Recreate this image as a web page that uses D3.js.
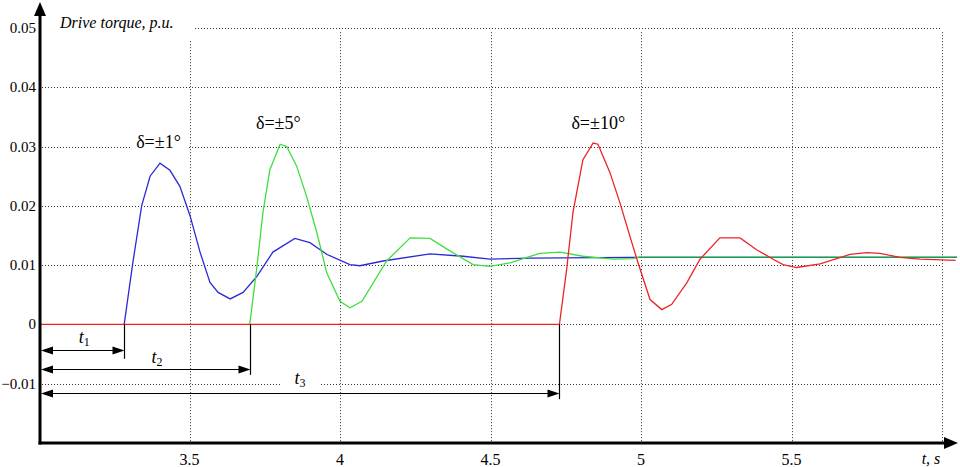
<!DOCTYPE html>
<html><head><meta charset="utf-8"><script src="https://cdn.jsdelivr.net/npm/d3@7"></script></head>
<body style="margin:0">
<svg id="chart" width="960" height="467"></svg>
<script>
// tick values
const xTicks = [3.5, 4, 4.5, 5, 5.5];
const yTicks = [-0.01, 0, 0.01, 0.02, 0.03, 0.04, 0.05];

// delta = +-1 deg (blue)
const blueT = [3.283, 3.312, 3.341, 3.369, 3.402, 3.435, 3.468, 3.502, 3.535, 3.568, 3.595, 3.635, 3.678, 3.724, 3.777, 3.850, 3.900, 3.957, 4.033, 4.066, 4.143, 4.299, 4.409, 4.498, 4.631, 4.963, 6.05];
const blueV = [0, 0.0105, 0.020, 0.025, 0.0272, 0.026, 0.0233, 0.0183, 0.0122, 0.0071, 0.0054, 0.0043, 0.0054, 0.0081, 0.0122, 0.0145, 0.0138, 0.0118, 0.0101, 0.0099, 0.0107, 0.0119, 0.0115, 0.0110, 0.0112, 0.0113, 0.0113];

// delta = +-5 deg (green)
const greenT = [3.700, 3.723, 3.744, 3.767, 3.801, 3.823, 3.856, 3.889, 3.923, 3.956, 4.000, 4.033, 4.073, 4.155, 4.233, 4.299, 4.365, 4.442, 4.498, 4.565, 4.664, 4.731, 4.807, 4.907, 4.973, 4.997, 6.05];
const greenV = [0, 0.0093, 0.0189, 0.0261, 0.0304, 0.0300, 0.0267, 0.0216, 0.0155, 0.0087, 0.0039, 0.0028, 0.0039, 0.0107, 0.0146, 0.0145, 0.0124, 0.0101, 0.0098, 0.0104, 0.0120, 0.0122, 0.0115, 0.0110, 0.0111, 0.0114, 0.0114];

// delta = +-10 deg (red)
const redT = [3.0, 4.729, 4.753, 4.774, 4.807, 4.841, 4.857, 4.897, 4.930, 4.963, 4.990, 5.030, 5.069, 5.102, 5.152, 5.196, 5.262, 5.329, 5.384, 5.439, 5.472, 5.517, 5.595, 5.694, 5.750, 5.794, 5.860, 5.927, 6.045];
const redV = [0, 0, 0.0093, 0.0189, 0.0278, 0.0306, 0.0304, 0.0256, 0.0205, 0.0149, 0.0104, 0.0042, 0.0025, 0.0034, 0.0070, 0.0110, 0.0146, 0.0146, 0.0126, 0.0110, 0.0101, 0.0096, 0.0102, 0.0118, 0.0121, 0.0120, 0.0113, 0.0110, 0.0108];

// delay annotations t1, t2, t3
const tStart = [3.283, 3.700, 4.729];
const tArrowV = [-0.0043, -0.0075, -0.0115];
const tTickEnd = [-0.0058, -0.0085, -0.0126];
const tLabelT = [3.15, 3.392, 3.867];
const tLabelV = [-0.0031, -0.0065, -0.0101];

// curve labels
const deltaText = ["δ=±1°", "δ=±5°", "δ=±10°"];
const deltaT = [3.397, 3.795, 4.858];
const deltaV = [0.0297, 0.0330, 0.0330];

const FONT = '"Liberation Serif"';
const svg = d3.select("#chart");
const x = d3.scaleLinear().domain([3, 6]).range([39, 942]);
const y = d3.scaleLinear().domain([-0.02, 0.05]).range([443, 28]);

// every text gets the serif face set on itself
function txt(parent, size) {
  return parent.append("text")
    .attr("font-family", "Liberation Serif")
    .attr("font-size", size)
    .style("font-family", FONT);
}

const grid = svg.append("g")
  .attr("stroke", "#333")
  .attr("stroke-width", 1)
  .attr("stroke-dasharray", "1,2");

grid.selectAll("line.h").data(yTicks).enter().append("line")
  .attr("x1", x(3) + 3).attr("x2", x(6))
  .attr("y1", d => Math.round(y(d)) + 0.5).attr("y2", d => Math.round(y(d)) + 0.5);

grid.selectAll("line.v").data(xTicks.concat([6])).enter().append("line")
  .attr("x1", d => Math.round(x(d)) + 0.5).attr("x2", d => Math.round(x(d)) + 0.5)
  .attr("y1", y(0.0493)).attr("y2", y(-0.02));

// title blanks out the grid behind it
svg.append("rect").attr("x", 42).attr("y", 8).attr("width", 152).attr("height", 32).attr("fill", "#fff");
txt(svg, 16)
  .attr("x", 60).attr("y", 28)
  .attr("font-style", "italic")
  .text("Drive torque, p.u.");

const line = d3.line().x(d => x(d[0])).y(d => y(d[1]));
const series = [
  { t: blueT, v: blueV, c: "#2a2ad6" },
  { t: greenT, v: greenV, c: "#3ede3e" },
  { t: redT, v: redV, c: "#ec2424" }
];
series.forEach(s => {
  svg.append("path")
    .datum(s.t.map((t, i) => [t, s.v[i]]))
    .attr("fill", "none")
    .attr("stroke", s.c)
    .attr("stroke-width", 1.3)
    .attr("d", line);
});

// delay ticks and arrows
const ann = svg.append("g");
function arrowHead(g, tipX, tipY, dir, len, half) {
  g.append("path")
    .attr("d", `M${tipX},${tipY}L${tipX - dir * len},${tipY - half}L${tipX - dir * len},${tipY + half}Z`)
    .attr("fill", "#000");
}
tStart.forEach((t0, i) => {
  const xs = Math.round(x(t0)) + 0.5;
  const ya = Math.round(y(tArrowV[i])) + 0.5;
  const x0 = x(3) + 2;
  ann.append("line").attr("x1", xs).attr("x2", xs)
    .attr("y1", y(0)).attr("y2", y(tTickEnd[i]))
    .attr("stroke", "#000").attr("stroke-width", 1.2);
  ann.append("line").attr("x1", x0 + 8).attr("x2", xs - 8)
    .attr("y1", ya).attr("y2", ya)
    .attr("stroke", "#000").attr("stroke-width", 1.2);
  arrowHead(ann, x0, ya, -1, 12, 4);
  arrowHead(ann, xs, ya, 1, 12, 4);

  const g = ann.append("g");
  const lbl = txt(g, 18)
    .attr("x", x(tLabelT[i])).attr("y", y(tLabelV[i]))
    .attr("text-anchor", "middle");
  lbl.append("tspan").attr("font-style", "italic").text("t");
  lbl.append("tspan").attr("font-size", 12).attr("dy", 3).text(i + 1);
  if (i === 2) {
    const bb = lbl.node().getBBox();
    g.insert("rect", "text").attr("x", bb.x - 14).attr("y", bb.y)
      .attr("width", bb.width + 28).attr("height", bb.height).attr("fill", "#fff");
  }
});

// curve labels
deltaText.forEach((s, i) => {
  const g = svg.append("g");
  const t = txt(g, 18)
    .attr("x", x(deltaT[i])).attr("y", y(deltaV[i]))
    .attr("text-anchor", "middle")
    .text(s);
  const bb = t.node().getBBox();
  g.insert("rect", "text").attr("x", bb.x - 6).attr("y", bb.y)
    .attr("width", bb.width + 12).attr("height", bb.height).attr("fill", "#fff");
});

// axes
const axes = svg.append("g");
axes.append("line").attr("x1", 40).attr("x2", 40).attr("y1", y(-0.02) + 1.5).attr("y2", 14)
  .attr("stroke", "#000").attr("stroke-width", 3);
axes.append("path").attr("d", "M40,2L34,16L46,16Z").attr("fill", "#000");
axes.append("line").attr("x1", 38.5).attr("x2", 946).attr("y1", y(-0.02)).attr("y2", y(-0.02))
  .attr("stroke", "#000").attr("stroke-width", 3);
axes.append("path").attr("d", `M958,${y(-0.02)}L944,${y(-0.02) - 6}L944,${y(-0.02) + 6}Z`).attr("fill", "#000");

yTicks.forEach(d => {
  txt(axes, 15)
    .attr("x", 36).attr("y", y(d) + 5)
    .attr("text-anchor", "end")
    .text(d3.format("")(d));
});

xTicks.forEach(d => {
  txt(axes, 16)
    .attr("x", x(d)).attr("y", 465)
    .attr("text-anchor", "middle")
    .text(d);
});

txt(axes, 16)
  .attr("x", 931).attr("y", 464)
  .attr("text-anchor", "middle").attr("font-style", "italic")
  .text("t, s");
</script>
</body></html>
